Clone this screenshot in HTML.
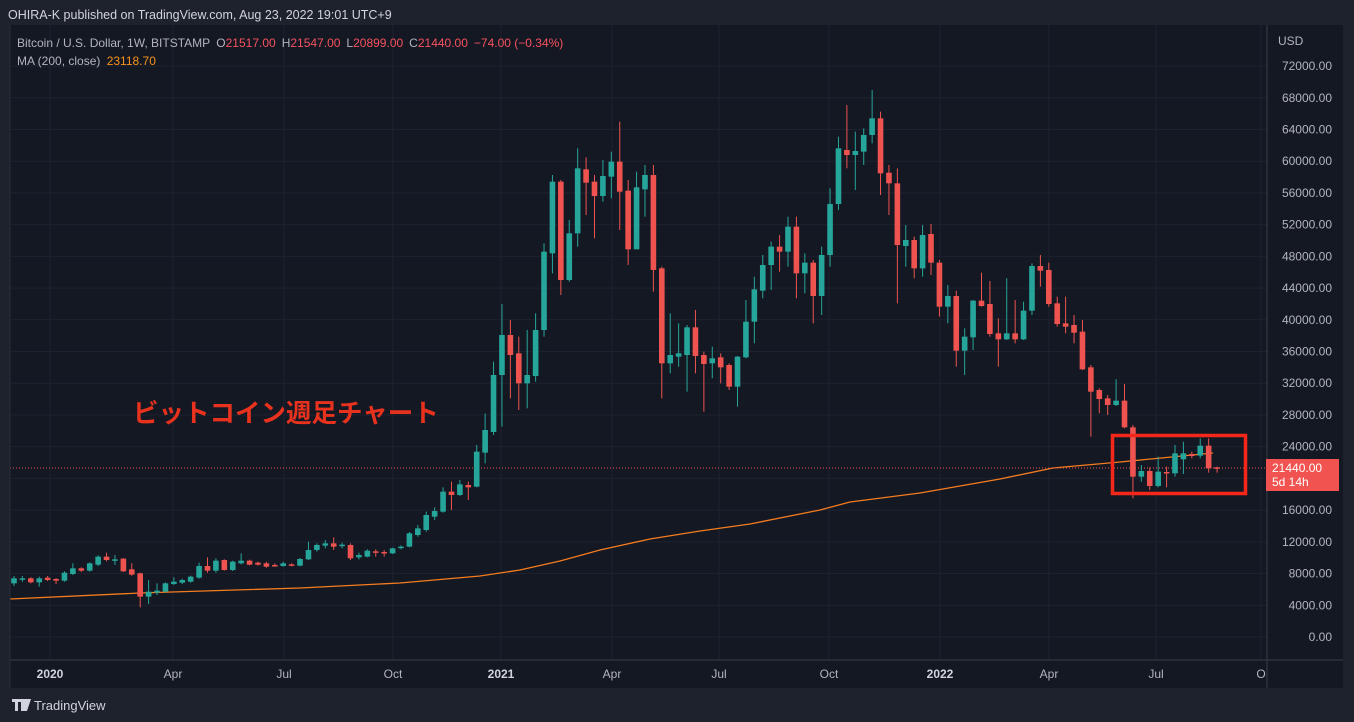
<!DOCTYPE html>
<html><head><meta charset="utf-8"><style>
html,body{margin:0;padding:0;background:#1e222d;width:1354px;height:722px;overflow:hidden;font-family:"Liberation Sans","Noto Sans CJK JP",sans-serif;}
</style></head><body>
<svg id="s" width="1354" height="722" xmlns="http://www.w3.org/2000/svg" style="position:absolute;left:0;top:0">
<rect x="0" y="0" width="1354" height="722" fill="#1e222d"/>
<rect x="10" y="25" width="1333" height="663" fill="#141823"/>
<g id="grid"></g>
<g id="ma"></g>
<line x1="10" y1="468" x2="1267" y2="468" stroke="#ef5350" stroke-width="1" stroke-dasharray="1,2"/>
<g id="candles"></g>
<rect x="1112.5" y="435.5" width="133" height="58" fill="none" stroke="#f5261a" stroke-width="3.5"/>
<line x1="1267" y1="25" x2="1267" y2="688" stroke="#3a3e4a" stroke-width="1"/>
<line x1="10" y1="660" x2="1343" y2="660" stroke="#3a3e4a" stroke-width="1"/>
<line x1="10" y1="25" x2="10" y2="688" stroke="#2a2e39" stroke-width="1"/>
<g id="plabels" font-size="12" fill="#b2b5be" text-anchor="end"></g>
<text x="1278" y="45" font-size="12" fill="#b2b5be">USD</text>
<rect x="1266" y="459" width="73" height="32" fill="#f05350"/>
<text x="1272" y="472" font-size="12" fill="#ffffff">21440.00</text>
<text x="1272" y="486" font-size="12" fill="#ffffff">5d 14h</text>
<g font-size="12" fill="#b2b5be" text-anchor="middle">
<text x="50" y="678" font-weight="bold" fill="#d1d4dc">2020</text>
<text x="173" y="678">Apr</text>
<text x="284" y="678">Jul</text>
<text x="393" y="678">Oct</text>
<text x="501" y="678" font-weight="bold" fill="#d1d4dc">2021</text>
<text x="612" y="678">Apr</text>
<text x="719" y="678">Jul</text>
<text x="829" y="678">Oct</text>
<text x="940" y="678" font-weight="bold" fill="#d1d4dc">2022</text>
<text x="1049" y="678">Apr</text>
<text x="1156" y="678">Jul</text>
<text x="1261" y="678">O</text>
</g>
<text x="8" y="19" font-size="12.5" fill="#d1d4dc">OHIRA-K published on TradingView.com, Aug 23, 2022 19:01 UTC+9</text>
<text x="17" y="47" font-size="12" fill="#b2b5be">Bitcoin / U.S. Dollar, 1W, BITSTAMP <tspan dx="3">O</tspan><tspan fill="#f7525f">21517.00</tspan><tspan dx="6">H</tspan><tspan fill="#f7525f">21547.00</tspan><tspan dx="6">L</tspan><tspan fill="#f7525f">20899.00</tspan><tspan dx="6">C</tspan><tspan fill="#f7525f">21440.00</tspan><tspan dx="6" fill="#f7525f">−74.00 (−0.34%)</tspan></text>
<text x="17" y="65" font-size="12" fill="#b2b5be">MA (200, close) <tspan dx="3" fill="#f7931a">23118.70</tspan></text>
<text x="133" y="422" font-size="25.5" font-weight="bold" fill="#e8321e">ビットコイン週足チャート</text>
<g fill="#d1d4dc"><path d="M12 699h9v3h-3v9h-3v-9h-3z M21 699h6l-3 12h-3z M27 699h4l-4 12h-3z"/></g>
<text x="34" y="710" font-size="13" fill="#d1d4dc">TradingView</text>
</svg>
<script>
var NS="http://www.w3.org/2000/svg";
function el(t,a,p){var e=document.createElementNS(NS,t);for(var k in a)e.setAttribute(k,a[k]);p.appendChild(e);return e;}
var grid=document.getElementById("grid"),pl=document.getElementById("plabels");
for(var k=0;k<=18;k++){var y=637-k*31.72;el("line",{x1:10,y1:y,x2:1267,y2:y,stroke:"#1e2230","stroke-width":1},grid);
 if(k!==5){var t=el("text",{x:1332,y:y+4},pl);t.textContent=(k*4000)+".00";}}
[50,173,284,393,501,612,719,829,940,1049,1156,1261].forEach(function(x){el("line",{x1:x,y1:25,x2:x,y2:660,stroke:"#1e2230","stroke-width":1},grid);});
var g1=[["g",145,160,138,168],["g",145,149,138,155],["r",145,157,142,160],["g",145,157,140,170],["r",143,150,138,153],["r",147,152,144,162],["g",128,152,124,155],["g",115,132,100,135],["r",115,122,112,126],["g",100,122,97,125],["g",80,104,76,108],["r",80,90,68,94],["g",88,92,75,105],["r",86,124,84,126],["r",118,134,100,137],["r",130,200,128,232],["g",185,200,150,222],["g",182,188,160,195],["g",160,185,157,188],["g",155,162,142,165],["g",150,158,146,162],["g",140,155,137,158],["g",108,143,98,146],["r",108,122,82,128],["g",92,122,85,128],["r",90,120,88,122],["g",95,120,92,123],["g",92,100,70,103],["r",92,104,89,106],["r",98,104,95,107]];
var g2=[["r",490,500,485,503],["r",495,498,490,500],["g",490,498,485,500],["r",493,496,490,499],["g",477,497,474,499],["g",450,478,425,480],["g",435,450,430,455],["g",430,437,420,445],["r",430,440,412,450],["g",434,437,428,445],["r",435,475,430,480],["g",465,472,458,478],["g",452,470,448,472],["r",454,458,448,470],["r",456,460,450,470],["g",445,460,443,462],["g",440,444,436,448],["g",400,440,396,442],["g",385,405,375,410],["g",345,390,335,395],["g",333,350,322,360],["g",275,335,262,338],["r",275,285,245,330],["g",253,285,240,288],["r",255,262,245,300],["g",155,260,135,262],["g",90,158,40,190]];
var g3=[["g",885,1056,845,1065],["g",765,885,672,1040],["r",765,825,720,955],["r",820,910,770,990],["g",885,910,750,985],["g",750,888,700,905],["g",515,750,490,770],["g",305,520,285,580],["r",305,600,300,645],["g",460,600,420,605],["g",265,460,205,500],["r",268,308,232,405],["r",305,348,285,475],["g",288,348,240,365],["g",245,290,215,355],["r",245,335,125,450],["r",332,508,300,555],["g",322,508,275,415],["g",285,328,255,410],["r",285,570,255,635],["r",565,850,560,955],["g",825,850,700,880],["g",820,830,730,860],["g",742,825,735,935],["r",742,828,690,880],["r",825,852,815,995],["g",835,850,800,895],["r",832,862,820,910],["r",855,920,850,930],["g",830,920,828,980],["g",725,832,660,835],["g",628,725,590,790],["g",555,632,525,655],["g",500,555,485,630],["r",500,515,465,575],["g",440,515,410,560],["r",440,580,410,655],["g",548,580,520,640],["r",548,648,540,730],["g",525,648,500,705],["g",372,525,325,560],["g",205,372,170,390],["r",210,225,75,265],["g",213,225,155,330],["g",165,215,145,255],["g",115,165,30,190],["r",115,280,95,345],["r",278,310,255,405],["r",310,495,265,670],
["g",480,498,435,560],["r",480,565,470,595],["g",465,565,435,590],["r",462,548,432,585],["r",548,680,540,710],["g",648,680,615,730],["r",648,812,632,860],["g",770,812,745,885],["g",662,772,660,810],["r",662,678,578,680],["r",672,762,603,770],["r",760,778,715,860],["g",760,778,595,780],["r",760,778,660,790],["g",692,778,665,780],["g",558,692,550,705],["r",558,572,525,620],["r",570,672,548,680],["r",670,732,650,740],["r",730,740,650,760],["r",735,758,705,790],["r",755,868,720,870],["r",862,935,855,1070],["r",930,957,925,1000],["r",955,975,945,1005],["g",962,975,898,978],["r",962,1042,912,1045],["r",1042,1190,1035,1255],["g",1173,1190,1155,1205],["r",1173,1218,1162,1230],["g",1175,1218,1130,1222],["r",1176,1180,1160,1222],["g",1120,1180,1095,1190],["g",1120,1138,1085,1182],["r",1122,1128,1115,1135],["g",1097,1127,1075,1135],["r",1097,1165,1075,1178],["r",1162,1166,1160,1178]];
var all=[];
g1.forEach(function(c){all.push([c[0],530+c[1]/3,530+c[2]/3,530+c[3]/3,530+c[4]/3]);});
g2.forEach(function(c){all.push([c[0],400+c[1]/3,400+c[2]/3,400+c[3]/3,400+c[4]/3]);});
g3.forEach(function(c){all.push([c[0],80+c[1]/3,80+c[2]/3,80+c[3]/3,80+c[4]/3]);});
var cg=document.getElementById("candles");
all.forEach(function(c,i){var x=14+i*8.413;var col=c[0]=="g"?"#26a69a":"#ef5350";
 el("line",{x1:x,y1:c[3],x2:x,y2:c[4],stroke:col,"stroke-width":1},cg);
 var h=Math.max(1.5,c[2]-c[1]);el("rect",{x:x-2.8,y:c[1],width:5.6,height:h,fill:col},cg);});
var ma=[[10,599],[140,593],[300,588],[400,583],[480,576],[520,570],[560,561],[600,550],[650,539],[700,531],[750,524],[800,514],[820,510],[850,502],[920,493],[1000,479],[1053,468],[1120,462],[1213,453]];
el("polyline",{points:ma.map(function(p){return p.join(",");}).join(" "),fill:"none",stroke:"#f57c1f","stroke-width":1.3},document.getElementById("ma"));
</script>
</body></html>
